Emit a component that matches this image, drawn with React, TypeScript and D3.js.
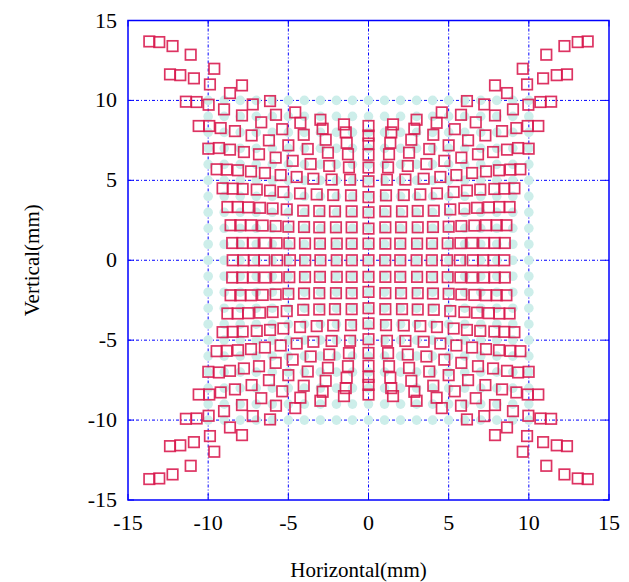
import React from 'react';
import * as d3 from 'd3';

const width = 629;
const height = 582;
const plot = { left: 128, top: 20.5, right: 609, bottom: 500 };

const tickValues = [-15, -10, -5, 0, 5, 10, 15];
const gridLines = [-10, -5, 0, 5, 10];

// nominal reference grid (mm)
const refGrid = [-10, -9, -8, -7, -6, -5, -4, -3, -2, -1, 0, 1, 2, 3, 4, 5, 6, 7, 8, 9, 10];

const rowX = [
  [0, 1.04, 1.98, 3.0, 3.95, 4.9, 5.7, 6.5, 7.15, 7.8, 8.47],
  [0, 1.05, 1.98, 3.03, 3.96, 4.94, 5.73, 6.46, 7.19, 7.87, 8.5],
  [0, 1.05, 2.03, 3.07, 4.02, 5.0, 5.79, 6.6, 7.33, 8.0, 8.6],
  [0, 1.05, 2.09, 3.07, 4.07, 5.1, 5.98, 6.77, 7.5, 8.16, 8.8],
  [0, 1.09, 2.2, 3.23, 4.27, 5.31, 6.14, 6.97, 7.85, 8.47, 9.1],
  [0, 1.15, 2.3, 3.44, 4.48, 5.48, 6.46, 7.33, 8.14, 8.85, 9.47],
  [0, 1.22, 2.45, 3.61, 4.73, 5.79, 6.83, 7.77, 8.64, 9.33, 9.99],
  [0, 1.28, 2.53, 3.79, 5.0, 6.21, 7.29, 8.33, 9.22, 9.93, 10.59],
  [0, 1.36, 2.67, 4.04, 5.38, 6.69, 7.89, 9.01, 9.97, 10.72, 11.39],
  [0, 1.42, 2.86, 4.25, 5.77, 7.22, 8.64, 9.89, 10.89, 11.74, 12.38],
  [0, 1.53, 3.0, 4.57, 6.14, 7.89, 9.62, 11.09, 12.22, 13.05, 13.67],
];
const rowY = [
  [0, 0, 0, 0, 0, 0, 0, 0, 0, 0, 0],
  [1.04, 1.04, 1.04, 1.04, 1.05, 1.06, 1.07, 1.08, 1.08, 1.08, 1.08],
  [1.98, 2.06, 2.06, 2.06, 2.08, 2.1, 2.14, 2.17, 2.19, 2.19, 2.19],
  [3.0, 3.06, 3.06, 3.08, 3.1, 3.18, 3.24, 3.28, 3.31, 3.33, 3.33],
  [3.95, 4.06, 4.08, 4.12, 4.18, 4.27, 4.36, 4.42, 4.46, 4.48, 4.5],
  [4.94, 5.04, 5.05, 5.1, 5.21, 5.33, 5.46, 5.56, 5.63, 5.67, 5.69],
  [5.8, 5.81, 5.9, 6.02, 6.22, 6.42, 6.63, 6.77, 6.92, 7.02, 6.98],
  [6.6, 6.63, 6.73, 6.96, 7.19, 7.5, 7.81, 8.08, 8.27, 8.4, 8.4],
  [7.3, 7.35, 7.54, 7.85, 8.2, 8.63, 9.06, 9.44, 9.73, 9.9, 9.92],
  [7.8, 8.0, 8.23, 8.6, 9.1, 9.75, 10.46, 11.0, 11.38, 11.58, 11.63],
  [8.4, 8.5, 8.79, 9.25, 9.96, 10.94, 11.98, 12.86, 13.4, 13.65, 13.69],
];

const font = "'Liberation Serif', 'Times New Roman', serif";
const blue = '#0000ff';

// the picture is symmetric in both axes, so the quadrant is mirrored
const points: { x: number; y: number }[] = [];
rowX.forEach((row, j) => {
  row.forEach((ax, i) => {
    const ay = rowY[j][i];
    const sxs = i === 0 ? [1] : [-1, 1];
    const sys = j === 0 ? [1] : [-1, 1];
    sxs.forEach(sx => sys.forEach(sy => points.push({ x: sx * ax, y: sy * ay })));
  });
});

export default function App() {
  const x = d3.scaleLinear().domain([-15, 15]).range([plot.left, plot.right]);
  const y = d3.scaleLinear().domain([-15, 15]).range([plot.bottom, plot.top]);
  const sq = 10.5;

  return (
    <svg width={width} height={height} style={{ position: 'absolute', left: 0, top: 0, background: '#fff' }}>
      {/* grid */}
      {gridLines.map(v => (
        <g key={'g' + v}>
          <line x1={x(v)} x2={x(v)} y1={plot.top} y2={plot.bottom} stroke={blue} strokeWidth={1} strokeDasharray="3,2,1,2" />
          <line x1={plot.left} x2={plot.right} y1={y(v)} y2={y(v)} stroke={blue} strokeWidth={1} strokeDasharray="3,2,1,2" />
        </g>
      ))}

      {/* reference grid points */}
      {refGrid.map(gx =>
        refGrid.map(gy => (
          <circle key={`c${gx}_${gy}`} cx={x(gx)} cy={y(gy)} r={4.8} fill="#cdeeea" />
        ))
      )}

      {/* measured points */}
      {points.map((p, k) => (
        <rect
          key={'p' + k}
          x={x(p.x) - sq / 2}
          y={y(p.y) - sq / 2}
          width={sq}
          height={sq}
          fill="none"
          stroke="#d8174c"
          strokeOpacity={0.88}
          strokeWidth={1.7}
        />
      ))}

      {/* frame and ticks */}
      <rect x={plot.left} y={plot.top} width={plot.right - plot.left} height={plot.bottom - plot.top} fill="none" stroke={blue} strokeWidth={1.5} />
      {tickValues.map(v => (
        <g key={'t' + v}>
          <line x1={x(v)} x2={x(v)} y1={plot.bottom} y2={plot.bottom - 6} stroke={blue} />
          <line x1={x(v)} x2={x(v)} y1={plot.top} y2={plot.top + 6} stroke={blue} />
          <line x1={plot.left} x2={plot.left + 6} y1={y(v)} y2={y(v)} stroke={blue} />
          <line x1={plot.right} x2={plot.right - 6} y1={y(v)} y2={y(v)} stroke={blue} />
          <text x={x(v)} y={plot.bottom + 30} textAnchor="middle" fontFamily={font} fontSize={22} fill="#000">
            {v}
          </text>
          <text x={plot.left - 11} y={y(v) + 7} textAnchor="end" fontFamily={font} fontSize={22} fill="#000">
            {v}
          </text>
        </g>
      ))}

      <text x={(plot.left + plot.right) / 2 - 10} y={577} textAnchor="middle" fontFamily={font} fontSize={21} fill="#000">
        Horizontal(mm)
      </text>
      <text transform={`translate(39,${(plot.top + plot.bottom) / 2}) rotate(-90)`} textAnchor="middle" fontFamily={font} fontSize={21} fill="#000">
        Vertical(mm)
      </text>
    </svg>
  );
}
